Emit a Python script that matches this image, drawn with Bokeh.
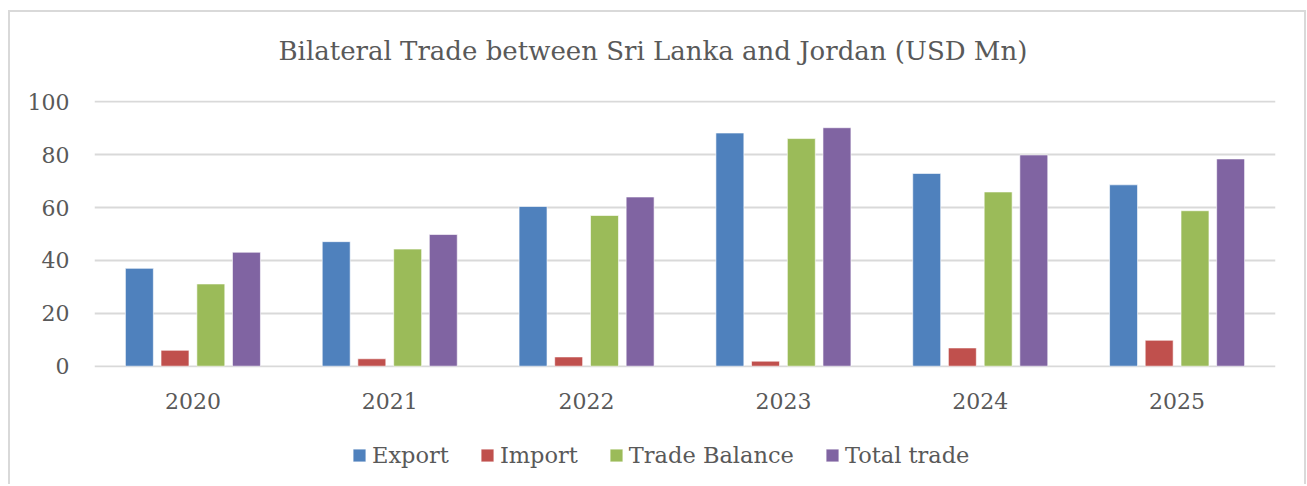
from bokeh.plotting import figure
from bokeh.layouts import column
from bokeh.models import FactorRange, Range1d, Legend, LegendItem, ColumnDataSource, Title
from bokeh.transform import dodge
from bokeh.embed import file_html
from bokeh.resources import INLINE

years = ["2020", "2021", "2022", "2023", "2024", "2025"]
export = [37.0, 47.1, 60.4, 88.2, 72.9, 68.6]
imports = [6.0, 2.8, 3.5, 1.9, 6.9, 9.8]
trade_balance = [31.1, 44.3, 57.0, 86.1, 65.9, 58.8]
total_trade = [43.1, 49.8, 64.0, 90.2, 79.9, 78.4]
series_names = ["Export", "Import", "Trade Balance", "Total trade"]
colors = ["#4F81BD", "#C0504D", "#9BBB59", "#8064A2"]
y_ticks = [0, 20, 40, 60, 80, 100]

FONT = "DejaVu Serif"
TXT = "#595959"

src = ColumnDataSource(dict(years=years, export=export, imports=imports,
                            tb=trade_balance, total=total_trade))

W = 1294
H1, H2 = 415, 57
p = figure(width=W, height=H1, x_range=FactorRange(*years, range_padding=0),
           y_range=Range1d(-0.5, 100.5), output_backend="svg", toolbar_location=None,
           min_border_left=84, min_border_right=29, min_border_top=88, min_border_bottom=60)
p.outline_line_color = None

cols = ["export", "imports", "tb", "total"]
offsets = [-0.272, -0.091, 0.091, 0.272]
for c, off, col in zip(cols, offsets, colors):
    p.vbar(x=dodge("years", off, range=p.x_range), top=c, width=0.142, bottom=0,
           source=src, fill_color=col, line_color="white", line_alpha=0.6, line_width=1)

p.title = Title(text="Bilateral Trade between Sri Lanka and Jordan (USD Mn)\n ", align="left",
                text_font=FONT, text_font_size="26px", text_font_style="normal",
                text_color=TXT, offset=184, standoff=9)

p.xgrid.grid_line_color = None
p.ygrid.grid_line_color = "#d9d9d9"
p.ygrid.grid_line_width = 2
p.yaxis.ticker = y_ticks
p.yaxis.axis_line_color = None
p.yaxis.major_tick_line_color = None
p.yaxis.minor_tick_line_color = None
p.yaxis.major_label_standoff = 19
p.xaxis.axis_line_color = None
p.xaxis.major_tick_line_color = None
p.xaxis.major_label_standoff = 19
for ax in (p.xaxis, p.yaxis):
    ax.major_label_text_font = FONT
    ax.major_label_text_font_size = "22px"
    ax.major_label_text_color = TXT

# legend strip below the chart (legend-only swatch renderers, kept outside the visible range)
p2 = figure(width=W, height=H2, x_range=Range1d(0, 1), y_range=Range1d(0, 1),
            output_backend="svg", toolbar_location=None, x_axis_type=None, y_axis_type=None,
            min_border_left=0, min_border_right=0, min_border_top=0, min_border_bottom=0)
p2.outline_line_color = None
p2.grid.visible = False
lsrc = ColumnDataSource(dict(x=[-10], top=[-10]))
rs = [p2.vbar(x="x", top="top", bottom=-11, width=0.1, source=lsrc, fill_color=col,
              line_color="white", line_alpha=0.6) for col in colors]
legend = Legend(items=[LegendItem(label=n, renderers=[r]) for n, r in zip(series_names, rs)],
                orientation="horizontal", location=(257, 16), border_line_color=None,
                background_fill_alpha=0, label_text_font=FONT, label_text_font_size="22.5px",
                label_text_color=TXT, glyph_width=16, glyph_height=16, spacing=30,
                label_standoff=5, padding=0, margin=0)
p2.add_layout(legend, "center")

layout = column(p, p2, spacing=0, margin=(10, 0, 0, 8),
                styles={"border-top": "2px solid #d9d9d9", "border-left": "2px solid #d9d9d9",
                        "border-right": "2px solid #d9d9d9"})

open("out.html", "w").write(file_html(layout, INLINE))
